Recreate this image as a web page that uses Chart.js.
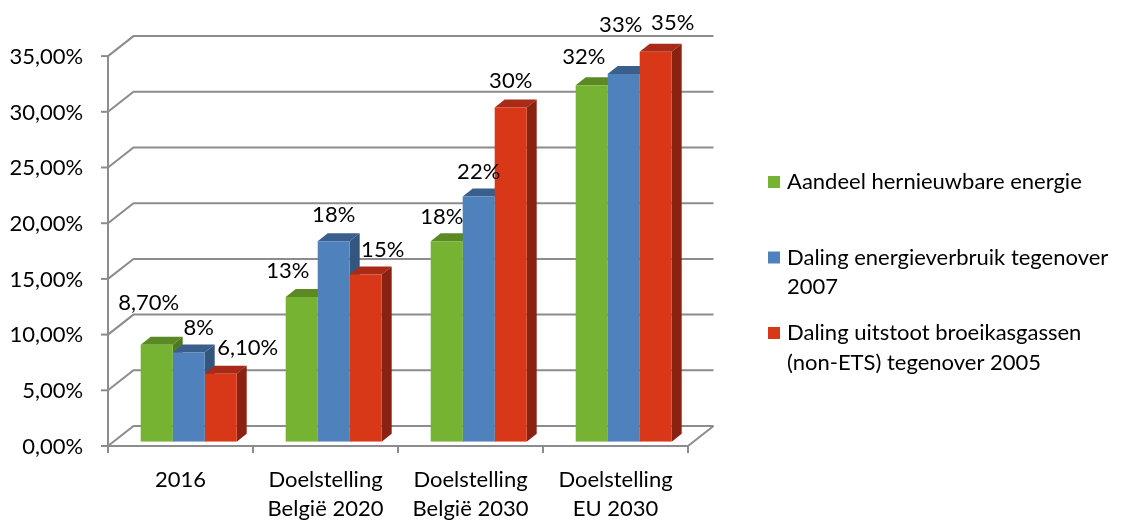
<!DOCTYPE html>
<html>
<head>
<meta charset="utf-8">
<script src="https://cdn.jsdelivr.net/npm/chart.js@4/dist/chart.umd.min.js"></script>
<style>
  html, body { margin: 0; padding: 0; background: #fff; }
  #wrap { width: 1133px; height: 522px; }
</style>
</head>
<body>
<div id="wrap"><canvas id="doelChart" width="1133" height="522"></canvas></div>
<script>
// chart data
const categories = ['2016', ['Doelstelling', 'België 2020'], ['Doelstelling', 'België 2030'], ['Doelstelling', 'EU 2030']];
const renewableShare = [8.7, 13, 18, 32];
const energyReduction = [8, 18, 22, 33];
const emissionReduction = [6.1, 15, 30, 35];
const seriesNames = [
  'Aandeel hernieuwbare energie',
  'Daling energieverbruik tegenover 2007',
  'Daling uitstoot broeikasgassen (non-ETS) tegenover 2005'
];
const legendLines = [
  ['Aandeel hernieuwbare energie'],
  ['Daling energieverbruik tegenover', '2007'],
  ['Daling uitstoot broeikasgassen', '(non-ETS) tegenover 2005']
];
const yMin = 0;
const yMax = 35;
const yStep = 5;

// look
const FONT = 'Lato, "Open Sans", sans-serif';
const FONT_SIZE = 22;
const GRID = '#8c8c8c';
const palette = [
  { front: '#77b332', top: '#5b8a25', side: '#4f7a1f' },
  { front: '#4f81bd', top: '#3a5f8c', side: '#34557e' },
  { front: '#d83818', top: '#a82a17', side: '#8a2212' }
];
const frontOff = { x: -8.2, y: 4.3 };   // front plane vs. bar front faces
const wallDepth = { x: 25.5, y: -20 };  // floor / side wall depth
const barDepth = { x: 10, y: -8 };      // depth of the bars

// Excel moved some labels around, small nudges [series][category]
const labelNudge = [
  [[-8, -16], [-14, 0], [-5, 2], [-8, -2]],
  [[10, 1], [0, 0], [0, 1], [-3, -23]],
  [[27, 0], [17, 1], [0, -1], [17, -3]]
];

function pct(v, fixed) {
  if (!fixed && Number.isInteger(v)) return v + '%';
  return v.toFixed(2).replace('.', ',') + '%';
}

// walls, floor and the 3D sides of the bars
const boxPlugin = {
  id: 'box3d',
  beforeDatasetsDraw(chart) {
    const ctx = chart.ctx;
    const y = chart.scales.y;
    const area = chart.chartArea;
    const fl = area.left + frontOff.x;
    const fr = area.right + frontOff.x;
    ctx.save();
    ctx.strokeStyle = GRID;
    ctx.lineWidth = 2;
    ctx.lineJoin = 'miter';
    for (let v = yMin; v <= yMax; v += yStep) {
      const fy = y.getPixelForValue(v) + frontOff.y;
      ctx.beginPath();
      ctx.moveTo(fl, fy);
      ctx.lineTo(fl + wallDepth.x, fy + wallDepth.y);
      ctx.lineTo(fr + wallDepth.x, fy + wallDepth.y);
      ctx.stroke();
      // tick on the front axis
      ctx.beginPath();
      ctx.moveTo(fl - 7, fy);
      ctx.lineTo(fl, fy);
      ctx.stroke();
    }
    const f0 = y.getPixelForValue(0) + frontOff.y;
    const fTop = y.getPixelForValue(yMax) + frontOff.y;
    // front value axis
    ctx.beginPath();
    ctx.moveTo(fl, fTop);
    ctx.lineTo(fl, f0 + 7);
    ctx.stroke();
    // floor front and right edge
    ctx.beginPath();
    ctx.moveTo(fl, f0);
    ctx.lineTo(fr, f0);
    ctx.lineTo(fr + wallDepth.x, f0 + wallDepth.y);
    ctx.stroke();
    // category ticks
    const n = categories.length;
    for (let i = 1; i <= n; i++) {
      const tx = fl + (fr - fl) * i / n;
      ctx.beginPath();
      ctx.moveTo(tx, f0);
      ctx.lineTo(tx, f0 + 7);
      ctx.stroke();
    }

    // top and side faces, series in order so nearer ones cover
    chart.data.datasets.forEach((ds, di) => {
      const meta = chart.getDatasetMeta(di);
      meta.data.forEach(bar => {
        const p = bar.getProps(['x', 'y', 'base', 'width'], true);
        const l = p.x - p.width / 2, r = p.x + p.width / 2;
        ctx.fillStyle = palette[di].top;
        ctx.beginPath();
        ctx.moveTo(l, p.y);
        ctx.lineTo(r, p.y);
        ctx.lineTo(r + barDepth.x, p.y + barDepth.y);
        ctx.lineTo(l + barDepth.x, p.y + barDepth.y);
        ctx.closePath();
        ctx.fill();
        ctx.fillStyle = palette[di].side;
        ctx.beginPath();
        ctx.moveTo(r, p.y);
        ctx.lineTo(r + barDepth.x, p.y + barDepth.y);
        ctx.lineTo(r + barDepth.x, p.base + barDepth.y);
        ctx.lineTo(r, p.base);
        ctx.closePath();
        ctx.fill();
      });
    });
    ctx.restore();
  },
  afterDatasetsDraw(chart) {
    const ctx = chart.ctx;
    ctx.save();
    ctx.font = FONT_SIZE + 'px ' + FONT;
    ctx.fillStyle = '#000';
    ctx.textAlign = 'center';
    ctx.textBaseline = 'middle';
    chart.data.datasets.forEach((ds, di) => {
      chart.getDatasetMeta(di).data.forEach((bar, i) => {
        const nudge = labelNudge[di][i];
        ctx.fillText(pct(ds.data[i]), bar.x + nudge[0], bar.y - 26 + nudge[1]);
      });
    });
    ctx.restore();
  },
  afterDraw(chart) {
    // legend on the right, with wrapped names
    const ctx = chart.ctx;
    ctx.save();
    ctx.font = FONT_SIZE + 'px ' + FONT;
    ctx.textAlign = 'left';
    ctx.textBaseline = 'middle';
    const x0 = 768, y0 = 182, itemGap = 75.5, lineGap = 29.5;
    legendLines.forEach((lines, di) => {
      const iy = y0 + di * itemGap;
      ctx.fillStyle = palette[di].front;
      ctx.fillRect(x0, iy - 6, 12, 12);
      ctx.fillStyle = '#000';
      lines.forEach((t, k) => ctx.fillText(t, x0 + 19, iy + k * lineGap));
    });
    ctx.restore();
  }
};

const ctx = document.getElementById('doelChart').getContext('2d');
new Chart(ctx, {
  type: 'bar',
  data: {
    labels: categories,
    datasets: [renewableShare, energyReduction, emissionReduction].map((vals, i) => ({
      label: seriesNames[i],
      data: vals,
      backgroundColor: palette[i].front,
      borderWidth: 0,
      barPercentage: 1,
      categoryPercentage: 0.662
    }))
  },
  options: {
    responsive: false,
    animation: false,
    devicePixelRatio: 1,
    layout: { padding: { top: 51.8, right: 436.8, left: 0, bottom: 0 } },
    plugins: {
      legend: { display: false },
      tooltip: { enabled: false }
    },
    scales: {
      x: {
        grid: { display: false, drawTicks: false },
        border: { display: false },
        ticks: {
          color: '#000',
          font: { family: FONT, size: FONT_SIZE, lineHeight: 1.32 },
          padding: 24,
          labelOffset: frontOff.x,
          maxRotation: 0,
          autoSkip: false
        },
        afterFit(scale) { scale.height = 522 - 441.7; }
      },
      y: {
        min: yMin,
        max: yMax,
        grid: { display: false, drawTicks: false },
        border: { display: false },
        ticks: {
          stepSize: yStep,
          color: '#000',
          font: { family: FONT, size: FONT_SIZE },
          padding: 33,
          labelOffset: 5,
          callback: v => pct(v, true)
        },
        afterFit(scale) { scale.width = 116.2; }
      }
    }
  },
  plugins: [boxPlugin]
});
</script>
</body>
</html>
